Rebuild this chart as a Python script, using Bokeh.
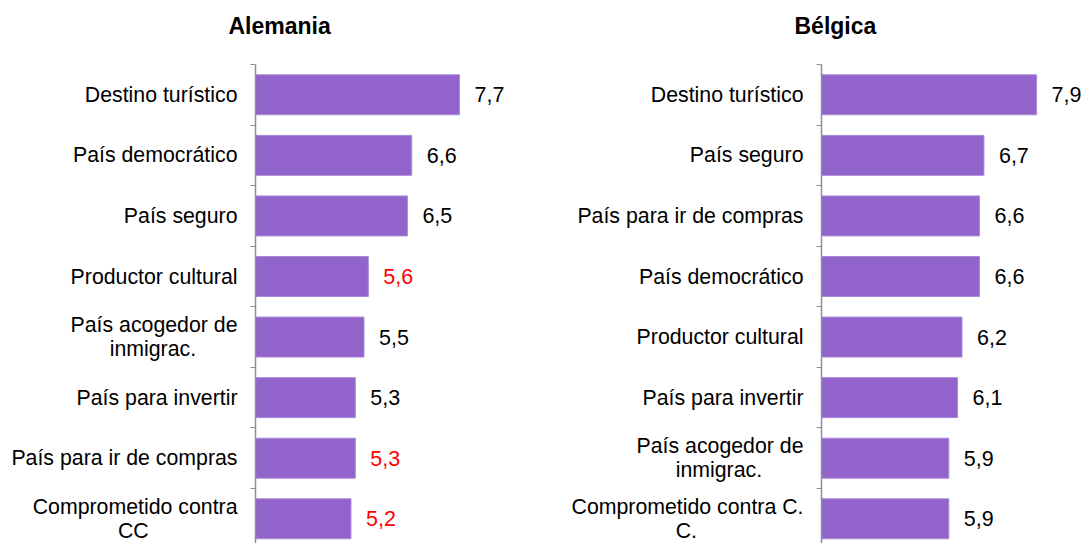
from bokeh.plotting import figure
from bokeh.layouts import row
from bokeh.models import Range1d, FixedTicker, ColumnDataSource, Title
from bokeh.core.properties import value
from bokeh.embed import file_html
from bokeh.resources import INLINE

# ---------------- data ----------------
de_title = "Alemania"
de_categories = ["Destino turístico", "País democrático", "País seguro", "Productor cultural",
                 "País acogedor de\ninmigrac.", "País para invertir", "País para ir de compras",
                 "Comprometido contra\nCC"]
de_values = [7.7, 6.6, 6.5, 5.6, 5.5, 5.3, 5.3, 5.2]
de_label_colors = ["black", "black", "black", "red", "black", "black", "red", "red"]

be_title = "Bélgica"
be_categories = ["Destino turístico", "País seguro", "País para ir de compras", "País democrático",
                 "Productor cultural", "País para invertir", "País acogedor de\ninmigrac.",
                 "Comprometido contra C.\nC."]
be_values = [7.9, 6.7, 6.6, 6.6, 6.2, 6.1, 5.9, 5.9]
be_label_colors = ["black"] * 8

x_start = 3.0
FONT = "Liberation Sans"
BAR = "#9163CB"
AXIS = "#8A8FA3"
NBSP = "\u00a0"
# no-break spaces after a second line so that it sits centred under the first
# (the axis right-aligns each line of a label)
second_line_pad = {"inmigrac.": 7, "CC": 15, "C.": 18}

FRAME_TOP = 64
HEIGHT = 543


def centred(label):
    lines = label.split("\n")
    if len(lines) == 2:
        lines[1] = lines[1] + NBSP * second_line_pad.get(lines[1], 0)
    return "\n".join(lines)


def panel(title, cats, vals, colors, width, border_left, x_end):
    n = len(cats)
    centers = [n - i - 0.5 for i in range(n)]
    p = figure(width=width, height=HEIGHT, output_backend="svg", toolbar_location=None,
               x_range=Range1d(x_start, x_end), y_range=Range1d(0.092, n),
               min_border_left=border_left, min_border_right=0, min_border_top=FRAME_TOP,
               min_border_bottom=0)
    p.outline_line_color = None
    p.xgrid.visible = False
    p.ygrid.visible = False
    p.xaxis.visible = False
    p.background_fill_color = "white"
    p.border_fill_color = "white"

    src = ColumnDataSource(dict(
        y=centers, v=vals, left=[x_start] * n,
        txt=[f"{v:.1f}".replace(".", ",") for v in vals], col=colors))
    p.hbar(y="y", left="left", right="v", height=0.66, source=src,
           fill_color=BAR, line_color="#A98BDB", line_width=1)
    p.text(x="v", y="y", text="txt", source=src, x_offset=15, text_align="left",
           text_baseline="middle", text_color="col", text_font=value(FONT),
           text_font_size="21.5px")

    ax = p.yaxis[0]
    ax.ticker = FixedTicker(ticks=centers, minor_ticks=list(range(1, n + 1)))
    ax.major_label_overrides = {c: centred(lab) for c, lab in zip(centers, cats)}
    ax.major_label_text_font = FONT
    ax.major_label_text_font_size = "21.3px"
    ax.major_label_text_color = "black"
    ax.major_label_text_line_height = 1.0
    ax.major_label_standoff = 13
    ax.major_tick_out = 0
    ax.major_tick_in = 0
    ax.minor_tick_out = 5
    ax.minor_tick_in = 0
    ax.axis_line_color = AXIS
    ax.minor_tick_line_color = AXIS
    ax.axis_line_width = 1.5

    # a blank spacer panel next to the frame, then the title above it
    spacer = Title(text=" ", text_font=FONT, text_font_size="10px", standoff=13)
    p.add_layout(spacer, "above")
    t = Title(text=title, align="left", offset=-27, text_font=FONT,
              text_font_size="23px", text_font_style="bold", text_color="black",
              standoff=0)
    p.add_layout(t, "above")
    return p


# left figure spans x 0..552, frame 255..552
p1 = panel(de_title, de_categories, de_values, de_label_colors, 552, 255,
           x_start + (552 - 255) / 43.4)
# right figure spans x 552..1081, frame 821..1081
p2 = panel(be_title, be_categories, be_values, be_label_colors, 529, 269,
           x_start + (1081 - 821) / 43.9)

layout = row(p1, p2)
open("out.html", "w").write(file_html(layout, INLINE))
